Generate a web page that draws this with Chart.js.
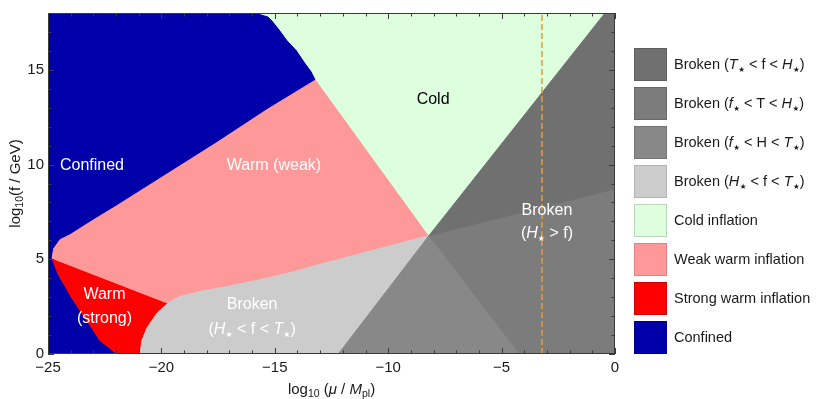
<!DOCTYPE html>
<html>
<head>
<meta charset="utf-8">
<script src="https://cdn.jsdelivr.net/npm/chart.js@4.4.1/dist/chart.umd.min.js"></script>
<style>
  html, body { margin: 0; padding: 0; background: #ffffff; }
  #wrap { position: relative; width: 820px; height: 399px; overflow: hidden; font-family: "Liberation Sans", Arial, sans-serif; }
  #wrap canvas { position: absolute; left: 0; top: 0; }
  #legend { position: absolute; left: 634px; top: 48px; }
  .item { height: 39px; display: flex; align-items: flex-start; }
  .sw { width: 31px; height: 31px; box-sizing: content-box; border: 1px solid; }
  .lt { margin-left: 7px; font-size: 14.5px; color: #1a1a1a; line-height: 33px; white-space: nowrap; }
  .lt i { font-style: italic; }
  .st { font-family: "DejaVu Sans", sans-serif; font-size: 7.5px; vertical-align: -3px; margin-left: 0.5px; }
</style>
</head>
<body>
<div id="wrap">
  <canvas id="c" width="820" height="399"></canvas>
  <div id="legend"></div>
</div>
<script>
// ---------------- data (log10 mu/Mpl , log10 f/GeV) ----------------
const xRange = [-25, 0];
const yRange = [0, 18];
const xTickValues = [-25, -20, -15, -10, -5, 0];
const yTickValues = [0, 5, 10, 15];

const center = [-8.2, 6.25];              // point where all broken/cold/warm regions meet
const coldBrokenTop = [-0.44, 18];        // cold / broken(T<f<H) boundary at top edge
const darkMediumRight = [0, 8.71];        // broken(T<f<H) / broken(f<T<H) at right edge
const mediumBottom = [-4.2, 0];           // broken(f<T<H) / broken(f<H<T) at bottom edge
const lightBottom = [-12.2, 0];           // broken(f<H<T) / broken(H<f<T) at bottom edge

// confined / strong warm boundary (top corner -> bottom)
const strongConfinedEdge = [[-24.82, 5.05], [-24.56, 4.23], [-23.94, 2.94], [-23.28, 1.75], [-22.71, 0.72], [-21.96, 0]];
// strong warm / broken(H<f<T) boundary (bottom -> junction)
const strongBrokenEdge = [[-20.94, 0], [-20.86, 0.72], [-20.63, 1.39], [-20.19, 2.16], [-19.71, 2.68]];
// weak warm / broken(H<f<T) boundary (junction -> center)
const weakBrokenEdge = [[-19.71, 2.68], [-19.45, 2.88], [-19.18, 3.04], [-18.3, 3.3], [-17.11, 3.56], [-15.65, 3.92], [-14.2, 4.33], [-13.0, 4.74], [-8.2, 6.25]];
// confined / weak warm boundary (corner -> triple point)
const weakConfinedEdge = [[-24.82, 5.05], [-24.75, 5.55], [-24.47, 6.03], [-24.03, 6.29], [-23.02, 7.06], [-22.0, 7.8], [-19.75, 9.5], [-17.5, 11.2], [-15.34, 12.9], [-13.18, 14.48]];
// confined / cold boundary (triple point -> top edge)
const coldConfinedEdge = [[-13.18, 14.48], [-13.36, 14.9], [-13.67, 15.41], [-14.02, 16.03], [-14.42, 16.54], [-14.77, 17.11], [-15.08, 17.58], [-15.3, 17.84], [-15.74, 18]];

const dashedLineX = -3.22;

const regionNames = [
  "Broken (T<f<H)", "Broken (f<T<H)", "Broken (f<H<T)", "Broken (H<f<T)",
  "Cold inflation", "Weak warm inflation", "Strong warm inflation", "Confined"
];
const regionColors = ["#707070", "#7c7c7c", "#888888", "#cccccc", "#ddffdd", "#ff9999", "#ff0000", "#0000aa"];
const legendBorders = ["#5e5e5e", "#686868", "#747474", "#b4b4b4", "#b8d8b8", "#e08080", "#d00000", "#000090"];

// ---------------- build polygons from boundaries ----------------
const rev = a => a.slice().reverse();
const polys = {
  "Broken (T<f<H)": [center, darkMediumRight, [xRange[1], yRange[1]], coldBrokenTop],
  "Broken (f<T<H)": [center, mediumBottom, [xRange[1], yRange[0]], darkMediumRight],
  "Broken (f<H<T)": [center, lightBottom, mediumBottom],
  "Broken (H<f<T)": [...strongBrokenEdge, ...weakBrokenEdge.slice(1), lightBottom],
  "Cold inflation": [...coldConfinedEdge, coldBrokenTop, center],
  "Weak warm inflation": [...weakConfinedEdge, center, ...rev(weakBrokenEdge).slice(1)],
  "Strong warm inflation": [...strongConfinedEdge, ...strongBrokenEdge],
  "Confined": [[xRange[0], yRange[0]], ...rev(strongConfinedEdge), ...weakConfinedEdge.slice(1), ...coldConfinedEdge.slice(1), [xRange[0], yRange[1]]]
};
const toPts = arr => { const p = arr.map(([x, y]) => ({x, y})); p.push({x: arr[0][0], y: arr[0][1]}); return p; };

const datasets = [{
  label: "dashed",
  data: [{x: dashedLineX, y: yRange[0]}, {x: dashedLineX, y: yRange[1]}],
  borderColor: "#f29a2e", borderWidth: 1.5, borderDash: [6, 3],
  pointRadius: 0, fill: false, order: 0, tension: 0
}];
regionNames.forEach((name, i) => {
  datasets.push({
    label: name, data: toPts(polys[name]),
    borderColor: regionColors[i], backgroundColor: regionColors[i],
    borderWidth: 1, pointRadius: 0, fill: "shape", order: 1, tension: 0
  });
});

// ---------------- text helpers ----------------
const FF = '"Liberation Sans", Arial, sans-serif';
function segFont(kind, size) {
  if (kind === "i") return "italic " + size + "px " + FF;
  if (kind === "sub") return (size * 0.7).toFixed(1) + "px " + FF;
  if (kind === "star") return (size * 0.5).toFixed(1) + 'px "DejaVu Sans", sans-serif';
  return size + "px " + FF;
}
function drawRich(ctx, segs, x, y, size, color) {
  ctx.save();
  ctx.textBaseline = "middle";
  ctx.textAlign = "left";
  ctx.fillStyle = color;
  let w = 0;
  segs.forEach(([t, k]) => { ctx.font = segFont(k, size); w += ctx.measureText(t).width; });
  let cx = x - w / 2;
  segs.forEach(([t, k]) => {
    ctx.font = segFont(k, size);
    const dy = k === "sub" ? size * 0.3 : (k === "star" ? size * 0.32 : 0);
    ctx.fillText(t, cx, y + dy);
    cx += ctx.measureText(t).width;
  });
  ctx.restore();
}

const STAR = "\u2605";
const regionLabels = [
  {x: -23.06, ys: [9.92], lines: [[["Confined", "n"]]], color: "#ffffff"},
  {x: -15.04, ys: [9.92], lines: [[["Warm (weak)", "n"]]], color: "#ffffff"},
  {x: -8.02, ys: [13.44], lines: [[["Cold", "n"]]], color: "#000000"},
  {x: -3.0, ys: [7.58, 6.34], lines: [[["Broken", "n"]], [["(", "n"], ["H", "i"], [STAR, "star"], [" > f)", "n"]]], color: "#ffffff"},
  {x: -22.51, ys: [3.14, 1.86], lines: [[["Warm", "n"]], [["(strong)", "n"]]], color: "#ffffff"},
  {x: -16.0, ys: [2.63, 1.29], lines: [[["Broken", "n"]], [["(", "n"], ["H", "i"], [STAR, "star"], [" < f < ", "n"], ["T", "i"], [STAR, "star"], [")", "n"]]], color: "#ffffff"}
];

const decor = {
  id: "decor",
  afterDatasetsDraw(chart) {
    const {ctx, chartArea: a, scales: {x, y}} = chart;
    regionLabels.forEach(l => {
      l.lines.forEach((segs, i) => drawRich(ctx, segs, x.getPixelForValue(l.x), y.getPixelForValue(l.ys[i]), 16, l.color));
    });
    ctx.save();
    ctx.strokeStyle = "#3a3a3a";
    ctx.lineWidth = 1;
    ctx.strokeRect(Math.round(a.left) + 0.5, Math.round(a.top) + 0.5, Math.round(a.right - a.left) - 1, Math.round(a.bottom - a.top) - 1);
    ctx.beginPath();
    for (let v = xRange[0]; v <= xRange[1]; v += 1) {
      const px = Math.round(x.getPixelForValue(v)) + 0.5;
      const len = (v % 5 === 0) ? 6 : 3.5;
      ctx.moveTo(px, a.bottom); ctx.lineTo(px, a.bottom - len);
      ctx.moveTo(px, a.top); ctx.lineTo(px, a.top + len);
    }
    for (let v = yRange[0]; v <= yRange[1]; v += 1) {
      const py = Math.round(y.getPixelForValue(v)) + 0.5;
      const len = (v % 5 === 0) ? 6 : 3.5;
      ctx.moveTo(a.left, py); ctx.lineTo(a.left + len, py);
      ctx.moveTo(a.right, py); ctx.lineTo(a.right - len, py);
    }
    ctx.stroke();
    ctx.restore();
  },
  afterDraw(chart) {
    const {ctx, chartArea: a} = chart;
    drawRich(ctx, [["log", "n"], ["10", "sub"], [" (", "n"], ["μ", "i"], [" / ", "n"], ["M", "i"], ["pl", "sub"], [")", "n"]],
      (a.left + a.right) / 2, a.bottom + 36, 15, "#1a1a1a");
    ctx.save();
    ctx.translate(16, (a.top + a.bottom) / 2);
    ctx.rotate(-Math.PI / 2);
    drawRich(ctx, [["log", "n"], ["10", "sub"], ["(f / GeV)", "n"]], 0, 0, 15, "#1a1a1a");
    ctx.restore();
  }
};

const fmt = v => (v < 0 ? "\u2212" + Math.abs(v) : String(v));

new Chart(document.getElementById("c"), {
  type: "line",
  data: {datasets},
  options: {
    responsive: false,
    animation: false,
    events: [],
    layout: {padding: {top: 5, right: 205, left: 0, bottom: 0}},
    plugins: {legend: {display: false}, tooltip: {enabled: false}},
    scales: {
      x: {
        type: "linear", min: xRange[0], max: xRange[1],
        grid: {display: false, drawTicks: false}, border: {display: false},
        afterBuildTicks: s => { s.ticks = xTickValues.map(v => ({value: v})); },
        afterFit: s => { s.height = 45; },
        ticks: {padding: 5, color: "#1a1a1a", font: {family: FF, size: 15}, callback: v => fmt(v), maxRotation: 0, autoSkip: false}
      },
      y: {
        type: "linear", min: yRange[0], max: yRange[1],
        grid: {display: false, drawTicks: false}, border: {display: false},
        afterBuildTicks: s => { s.ticks = yTickValues.map(v => ({value: v})); },
        afterFit: s => { s.width = 48; },
        ticks: {padding: 4, color: "#1a1a1a", font: {family: FF, size: 15}, callback: v => fmt(v), autoSkip: false}
      }
    }
  },
  plugins: [decor]
});

// ---------------- HTML legend (rich text) ----------------
const S = '<span class="st">\u2605</span>';
const legendHtml = [
  'Broken (<i>T</i>' + S + ' &lt; f &lt; <i>H</i>' + S + ')',
  'Broken (<i>f</i>' + S + ' &lt; T &lt; <i>H</i>' + S + ')',
  'Broken (<i>f</i>' + S + ' &lt; H &lt; <i>T</i>' + S + ')',
  'Broken (<i>H</i>' + S + ' &lt; f &lt; <i>T</i>' + S + ')',
  'Cold inflation', 'Weak warm inflation', 'Strong warm inflation', 'Confined'
];
const lg = document.getElementById("legend");
legendHtml.forEach((h, i) => {
  const d = document.createElement("div");
  d.className = "item";
  d.innerHTML = '<div class="sw" style="background:' + regionColors[i] + ';border-color:' + legendBorders[i] + '"></div><div class="lt">' + h + '</div>';
  lg.appendChild(d);
});
</script>
</body>
</html>
